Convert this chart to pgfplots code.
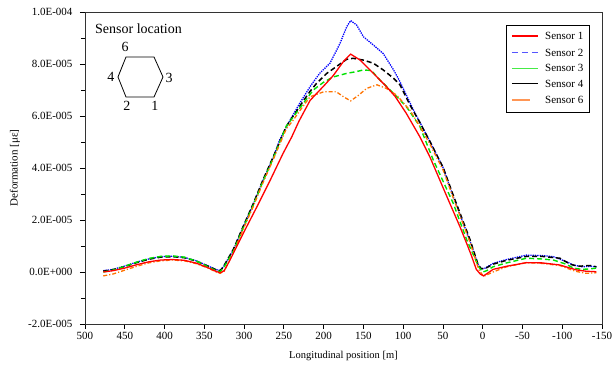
\documentclass[border=0pt]{standalone}
\usepackage{pgfplots}
\pgfplotsset{compat=1.18}
\usepackage{fontspec}
\setmainfont{Liberation Serif}
\definecolor{sgreen}{RGB}{0,225,0}
\definecolor{sorange}{RGB}{255,115,0}
\definecolor{lblue}{RGB}{85,85,255}
\definecolor{lgreen}{RGB}{70,235,70}
\definecolor{lorange}{RGB}{255,150,85}
\definecolor{sred}{RGB}{255,0,0}
\begin{document}
\begin{tikzpicture}
\useasboundingbox (-85pt,-43pt) rectangle (527pt,324pt);
\begin{axis}[
  scale only axis, width=517pt, height=312pt,
  at={(0,0)}, anchor=south west,
  xmin=-150, xmax=500, x dir=reverse,
  ymin=-20, ymax=100,
  xtick={-150,-100,-50,0,50,100,150,200,250,300,350,400,450,500},
  xticklabels={-150,-100,-50,0,50,100,150,200,250,300,350,400,450,500},
  ytick={-20,0,20,40,60,80,100},
  yticklabels={-2.0E-005,0.0E+000,2.0E-005,4.0E-005,6.0E-005,8.0E-005,1.0E-004},
  minor ytick={-10,10,30,50,70,90},
  tick align=outside, xtick pos=bottom, ytick pos=left,
  major tick length=5pt, minor tick length=4pt,
  tick style={black, line width=0.8pt},
  axis line style={line width=0.9pt, black!80},
  tick label style={font=\fontsize{11}{13}\selectfont},
  yticklabel style={xshift=-4pt},
  xlabel={Longitudinal position [m]},
  ylabel={Deformation [με]},
  xlabel style={font=\fontsize{10.5}{12}\selectfont, at={(axis description cs:0.5,0)}, anchor=center, yshift=-32pt},
  ylabel style={font=\fontsize{11}{13}\selectfont, at={(axis description cs:-0.1354,0.5)}, anchor=center},
]
\addplot[forget plot, blue, line width=1.3pt, densely dotted] coordinates {
(477,0.5)(465,1)(450,2.3)(435,3.8)(420,5)(405,5.9)(390,6.1)(375,5.6)(360,4.3)(345,2.3)(335,0.9)(330,0.6)(326,2)(313.5,8.5)(301,17.4)(288,26.4)(276,35.4)(263,44.3)(255,51)(242,58.5)(230,64.9)(217,71.3)(205,76.4)(192,80.3)(179.4,87.9)(171,94.3)(166,96.7)(158.5,95)(150,90.5)(137.5,87.3)(125,84)(112,77.7)(104,73.2)(87,62.3)(66,50)(49.5,40)(37,29)(16,12)(6,3)(2,1.2)(-3,1.5)(-13,3.3)(-30,4.8)(-55,6.5)(-75,6.3)(-89,5.9)(-105,4)(-114,2.7)(-125,2)(-135,2.2)(-143,2)
};
\addplot[forget plot, black, line width=1.5pt, dash pattern=on 5pt off 3pt] coordinates {
(477,0.3)(465,0.9)(450,2.1)(435,3.6)(420,4.9)(405,5.7)(390,5.9)(375,5.5)(360,4.2)(345,2.2)(335,0.8)(330,0.5)(326,2)(313.5,8.7)(301,17.6)(288,26.6)(276,35.6)(263,44.5)(247,56)(236,61)(225,66)(217,69.5)(209,72.5)(196,76.4)(184,79)(171,81.8)(163,82.2)(150,81.5)(137.5,80.3)(125,77.7)(112,74.5)(104,72)(91,64)(79,57.5)(66,50)(49.5,40)(37,29.5)(16,12.5)(6,3)(2,1.3)(-3,1.3)(-13,3)(-30,4.5)(-55,6)(-75,6)(-97,5.3)(-110,3)(-120,2.2)(-135,2.5)(-143,2)
};
\addplot[forget plot, sgreen, line width=1.4pt, dash pattern=on 5pt off 3pt] coordinates {
(477,0)(465,0.7)(450,2.2)(435,3.8)(420,5.2)(405,6)(390,6.2)(375,5.7)(360,4.2)(345,2)(335,0.5)(330,0.2)(326,1.5)(313.5,8)(301,17)(288,26)(276,35)(263,44)(247,56)(230,63)(213,70)(200,73)(188,75)(171,76.4)(160,77)(150,77.7)(140,77.5)(129,73.8)(112,68.7)(104,66.2)(96,63.6)(79,56)(62,43)(37,26.4)(20,12.3)(5,2)(0,0)(-5,0.5)(-13,2)(-30,3.5)(-55,5.3)(-75,5)(-89,4.6)(-105,3)(-114,1.5)(-125,1)(-135,1.2)(-143,1.5)
};
\addplot[forget plot, sorange, line width=1.3pt, dash pattern=on 4pt off 2pt on 1.2pt off 2pt] coordinates {
(477,-1.5)(465,-0.8)(450,0.7)(435,2.2)(420,3.5)(405,4.3)(390,4.6)(375,4.3)(360,3.2)(345,1.5)(335,0)(330,-0.5)(325,0.3)(313.5,7.5)(301,16.5)(288,25.5)(276,34.5)(263,43.5)(247,55)(238,58.5)(230,62)(217,67.4)(200,69.3)(184,69.3)(175,67.4)(166,65.8)(156,68)(146,70.6)(133,72)(121,70.6)(108,68)(91,62)(79,56)(66,49)(49.5,39)(37,28.5)(16,11.5)(5,1)(-1,-1.7)(-6,-1)(-13,0)(-30,2)(-55,3.6)(-75,3.3)(-97,2.5)(-110,1)(-118,0.2)(-130,-0.5)(-143,-0.3)
};
\addplot[forget plot, red, line width=1.3pt] coordinates {
(477,0)(465,0.5)(450,1.5)(435,2.8)(420,3.9)(405,4.6)(390,4.8)(375,4.5)(360,3.4)(345,1.6)(335,0.2)(330,-0.3)(325,0.5)(317.7,4.6)(301,14.9)(284,25)(267,35.4)(251,45.6)(240,52)(231,58)(217,66)(200,71.5)(188,75.5)(175,81)(166,83.8)(154,81.5)(137.5,76.4)(121,71.3)(110,67.5)(96,61)(79,52)(66,44)(45,29)(28,17)(15,7)(8,1)(3,-0.8)(-1,-1.5)(-6,-0.5)(-13,1)(-30,2.2)(-55,3.6)(-75,3.5)(-97,2.7)(-110,1.5)(-118,0.8)(-130,0.3)(-143,0.1)
};

% legend box
\draw[black, line width=0.8pt, fill=white] (rel axis cs:0.8143,0.9583) rectangle (rel axis cs:0.9749,0.6795);
\draw[draw=sred, line width=1.1pt] (rel axis cs:0.8259,0.9231) -- (rel axis cs:0.8762,0.9231);
\draw[draw=lblue, line width=1.3pt, dash pattern=on 6pt off 4pt] (rel axis cs:0.8259,0.8702) -- (rel axis cs:0.8762,0.8702);
\draw[draw=lgreen, line width=1pt] (rel axis cs:0.8259,0.8205) -- (rel axis cs:0.8762,0.8205);
\draw[draw=black, line width=0.8pt] (rel axis cs:0.8259,0.7708) -- (rel axis cs:0.8762,0.7708);
\draw[draw=lorange, line width=1.4pt] (rel axis cs:0.8259,0.7179) -- (rel axis cs:0.8607,0.7179);
\node[anchor=west, inner sep=0pt, font=\fontsize{11}{13}\selectfont] at (rel axis cs:0.8897,0.9231) {Sensor 1};
\node[anchor=west, inner sep=0pt, font=\fontsize{11}{13}\selectfont] at (rel axis cs:0.8897,0.8702) {Sensor 2};
\node[anchor=west, inner sep=0pt, font=\fontsize{11}{13}\selectfont] at (rel axis cs:0.8897,0.8205) {Sensor 3};
\node[anchor=west, inner sep=0pt, font=\fontsize{11}{13}\selectfont] at (rel axis cs:0.8897,0.7708) {Sensor 4};
\node[anchor=west, inner sep=0pt, font=\fontsize{11}{13}\selectfont] at (rel axis cs:0.8897,0.7179) {Sensor 6};

\node[anchor=west, inner sep=0pt, font=\fontsize{14}{16}\selectfont] at (rel axis cs:0.0193,0.9455) {Sensor location};
\draw[black, line width=0.8pt] (rel axis cs:0.0793,0.8558) -- (rel axis cs:0.1335,0.8558) -- (rel axis cs:0.1509,0.7917) -- (rel axis cs:0.1335,0.7276) -- (rel axis cs:0.0793,0.7276) -- (rel axis cs:0.0638,0.7917) -- cycle;
\node[inner sep=0pt, font=\fontsize{14}{16}\selectfont] at (rel axis cs:0.0774,0.888) {6};
\node[inner sep=0pt, font=\fontsize{14}{16}\selectfont] at (rel axis cs:0.1625,0.789) {3};
\node[inner sep=0pt, font=\fontsize{14}{16}\selectfont] at (rel axis cs:0.0503,0.7917) {4};
\node[inner sep=0pt, font=\fontsize{14}{16}\selectfont] at (rel axis cs:0.0812,0.699) {2};
\node[inner sep=0pt, font=\fontsize{14}{16}\selectfont] at (rel axis cs:0.1354,0.699) {1};
\end{axis}
\end{tikzpicture}
\end{document}
